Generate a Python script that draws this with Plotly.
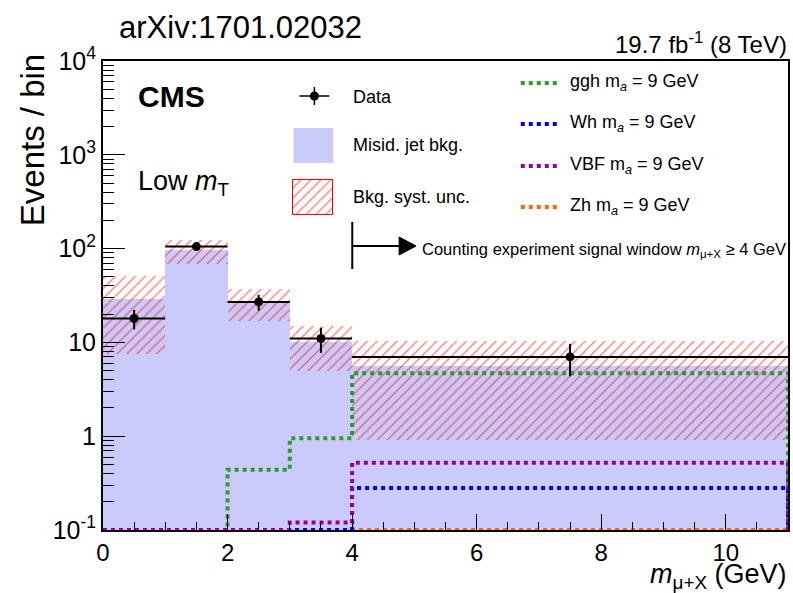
import numpy as np
import plotly.graph_objects as go

# ---- data -------------------------------------------------------------
bin_edges = [0, 1, 2, 3, 4, 11]
data_counts = [18, 105, 27, 11, 7]
bkg_misid = [29, 97, 27, 10, 5.6]
bkg_unc = [21.5, 28, 10, 5, 4.7]
sig_ggh = [0, 0, 0.44, 0.95, 4.7]
sig_wh = [0, 0, 0, 0.05, 0.28]
sig_vbf = [0, 0, 0, 0.12, 0.52]
sig_zh = [0, 0, 0, 0.02, 0.09]

y_ticks = [0.1, 1, 10, 100, 1000, 10000]
y_ticktext = ["10<sup>-1</sup>", "1", "10", "10<sup>2</sup>", "10<sup>3</sup>", "10<sup>4</sup>"]
y_minor = [k * 10.0 ** e for e in range(-1, 4) for k in range(2, 10)]
x_ticks = [0, 2, 4, 6, 8, 10]

# ---- layout geometry (pixels) ----------------------------------------
W, H = 793, 593
L, R, T, B = 103, 790, 61, 530
Y_FLOOR = 0.1
FONT = "Liberation Sans, Arial, Helvetica, sans-serif"

edges = np.array(bin_edges, dtype=float)
centers = (edges[:-1] + edges[1:]) / 2
widths = np.diff(edges)

C_FILL = "#cbcbfb"
C_HATCH = "#ff0000"
C_GGH = "#2e9a2e"
C_WH = "#0000ff"
C_VBF = "#990099"
C_ZH = "#ff6600"

HATCH = dict(shape="/", fgcolor=C_HATCH, bgcolor="rgba(0,0,0,0)", size=7, solidity=0.2)

fig = go.Figure()

# misidentified-jet background (filled histogram)
fig.add_trace(go.Bar(x=centers, y=bkg_misid, width=widths,
                     marker=dict(color=C_FILL, line=dict(width=0)),
                     showlegend=False, hoverinfo="skip"))

# systematic uncertainty band (hatched)
lo = np.array(bkg_misid) - np.array(bkg_unc)
hi = np.array(bkg_misid) + np.array(bkg_unc)
fig.add_trace(go.Bar(x=centers, y=hi - lo, base=lo, width=widths,
                     marker=dict(color="rgba(0,0,0,0)", line=dict(width=0), pattern=HATCH),
                     showlegend=False, hoverinfo="skip"))


def step_trace(vals, color):
    v = np.maximum(np.array(vals, dtype=float), Y_FLOOR)
    xs = list(edges) + [edges[-1]]
    ys = list(v) + [v[-1], Y_FLOOR]
    return go.Scatter(x=xs, y=ys, mode="lines", line_shape="hv",
                      line=dict(color=color, width=4, dash="4px,4px"),
                      cliponaxis=False, showlegend=False, hoverinfo="skip")


fig.add_trace(step_trace(sig_zh, C_ZH))
fig.add_trace(step_trace(sig_ggh, C_GGH))
fig.add_trace(step_trace(sig_wh, C_WH))
fig.add_trace(step_trace(sig_vbf, C_VBF))

# observed data
counts = np.array(data_counts, dtype=float)
fig.add_trace(go.Scatter(x=centers, y=counts, mode="markers",
                         marker=dict(color="black", size=9),
                         error_x=dict(type="data", array=widths / 2, color="black",
                                      thickness=2, width=0),
                         error_y=dict(type="data", array=np.sqrt(counts), color="black",
                                      thickness=2, width=0),
                         showlegend=False, hoverinfo="skip"))

# ---- tick marks on their own overlay axes (drawn over the fills) ------
fig.add_trace(go.Scatter(x=[None], y=[None], xaxis="x3", yaxis="y3",
                         showlegend=False, hoverinfo="skip"))
fig.add_trace(go.Scatter(x=[None], y=[None], xaxis="x4", yaxis="y4",
                         showlegend=False, hoverinfo="skip"))

# ---- legend drawn in pixel coordinates on an overlay axis pair ------
fig.add_trace(go.Scatter(x=[315], y=[96], mode="markers", xaxis="x2", yaxis="y2",
                         marker=dict(color="black", size=9),
                         error_x=dict(type="constant", value=15, color="black", thickness=1.5, width=0),
                         error_y=dict(type="constant", value=9, color="black", thickness=1.5, width=0),
                         showlegend=False, hoverinfo="skip"))
fig.add_trace(go.Bar(x=[314], y=[35], base=[180], width=[40], xaxis="x2", yaxis="y2",
                     marker=dict(color="rgba(0,0,0,0)", line=dict(color=C_HATCH, width=1),
                                 pattern=HATCH),
                     showlegend=False, hoverinfo="skip"))

shapes = [
    dict(type="rect", xref="x2", yref="y2", x0=294, x1=334, y0=128, y1=163,
         fillcolor=C_FILL, line=dict(width=0)),
    # signal-window marker
    dict(type="line", xref="x2", yref="y2", x0=353, x1=353, y0=222, y1=269,
         line=dict(color="black", width=2)),
    dict(type="line", xref="x2", yref="y2", x0=353, x1=402, y0=246, y1=246,
         line=dict(color="black", width=2)),
    dict(type="path", xref="x2", yref="y2", path="M 400 237 L 417 246 L 400 255 Z",
         fillcolor="black", line=dict(color="black", width=1)),
]
for yy, col in zip([83, 124, 166, 207], [C_GGH, C_WH, C_VBF, C_ZH]):
    shapes.append(dict(type="line", xref="x2", yref="y2", x0=522, x1=562, y0=yy, y1=yy,
                       line=dict(color=col, width=4, dash="4px,4px")))

ann = []


def text(x, y, s, size, anchor="left"):
    ann.append(dict(x=x, y=y, xref="x2", yref="y2", text=s, showarrow=False,
                    xanchor=anchor, yanchor="middle",
                    font=dict(family=FONT, size=size, color="black")))


text(352, 97, "Data", 18)
text(352, 145, "Misid. jet bkg.", 18)
text(352, 197, "Bkg. syst. unc.", 18)
for yy, name in zip([82, 123, 165, 206], ["ggh", "Wh", "VBF", "Zh"]):
    text(569, yy, f"{name} m<sub><i>a</i></sub> = 9 GeV", 18)
text(421, 250, "Counting experiment signal window <i>m</i><sub>\u03bc+X</sub> \u2265 4 GeV", 16.5)
text(136, 96, "<b>CMS</b>", 30)
text(136, 183, "Low <i>m</i><sub>T</sub>", 27)


# paper coords are relative to the plot area, so convert from pixels
def to_paper(px, py):
    return (px - L) / (R - L), (B - py) / (B - T)


def atext(px, py, s, size, anchor="left", angle=0):
    xp, yp = to_paper(px, py)
    ann.append(dict(x=xp, y=yp, xref="paper", yref="paper", text=s, showarrow=False,
                    xanchor=anchor, yanchor="middle", textangle=angle,
                    font=dict(family=FONT, size=size, color="black")))


atext(241, 28, "arXiv:1701.02032", 31, anchor="center")
atext(791, 43, "19.7 fb<sup>-1</sup> (8 TeV)", 24, anchor="right")
atext(32, 140, "Events / bin", 33, anchor="center", angle=-90)
atext(791, 576, "<i>m</i><sub>\u03bc+X</sub> (GeV)", 27, anchor="right")

tick_style = dict(ticks="inside", tickwidth=1, tickcolor="black", showticklabels=False,
                  showgrid=False, zeroline=False, showline=False)

fig.update_layout(
    width=W, height=H,
    margin=dict(l=L, r=W - R, t=T, b=H - B, pad=0),
    paper_bgcolor="white", plot_bgcolor="white",
    barmode="overlay", bargap=0,
    showlegend=False,
    shapes=shapes, annotations=ann,
    font=dict(family=FONT, color="black"),
    xaxis=dict(range=[0, 11], tickvals=x_ticks, ticks="inside", ticklen=16, tickwidth=1,
               tickcolor="black", showgrid=False, zeroline=False,
               showline=True, linecolor="black", linewidth=2, mirror=True,
               tickfont=dict(size=24, family=FONT), layer="above traces"),
    yaxis=dict(type="log", range=[-1, 4], tickvals=y_ticks, ticktext=y_ticktext,
               ticks="inside", ticklen=22, tickwidth=1, tickcolor="black",
               showgrid=False, zeroline=False,
               showline=True, linecolor="black", linewidth=2, mirror=True,
               tickfont=dict(size=25, family=FONT), layer="above traces"),
    xaxis2=dict(overlaying="x", range=[L, R], visible=False),
    yaxis2=dict(overlaying="y", range=[B, T], visible=False),
    # minor ticks
    xaxis3=dict(overlaying="x", range=[0, 11], tickmode="linear", tick0=0, dtick=0.5,
                ticklen=8, side="bottom", **tick_style),
    yaxis3=dict(overlaying="y", type="log", range=[-1, 4], tickvals=y_minor,
                ticklen=11, side="left", **tick_style),
    # major ticks repeated above the filled histogram
    xaxis4=dict(overlaying="x", range=[0, 11], tickvals=x_ticks,
                ticklen=16, side="bottom", **tick_style),
    yaxis4=dict(overlaying="y", type="log", range=[-1, 4], tickvals=y_ticks,
                ticklen=22, side="left", **tick_style),
)

fig.write_html("out.html")
